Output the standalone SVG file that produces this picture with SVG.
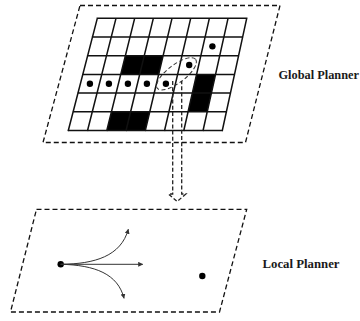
<svg xmlns="http://www.w3.org/2000/svg" width="360" height="321" viewBox="0 0 360 321">
  <style>
    .frame { fill: none; stroke: #111; stroke-width: 1.3; stroke-dasharray: 5 3; }
    .grid { fill: none; stroke: #111; stroke-width: 1.5; stroke-linecap: square; }
    .obst { fill: #000; }
    .dot { fill: #000; }
    .sel { fill: none; stroke: #333; stroke-width: 1; stroke-dasharray: 4 2.5; }
    .pass { fill: none; stroke: #222; stroke-width: 1.3; stroke-dasharray: 4 2.2; }
    .traj { fill: none; stroke: #333; stroke-width: 1; }
    .label { font-family: "Liberation Serif", "Times New Roman", serif; font-weight: bold; font-size: 12px; fill: #1a1a1a; }
  </style>
  <defs>
    <marker id="head" viewBox="0 0 10 10" refX="9" refY="5" markerWidth="5" markerHeight="5" markerUnits="userSpaceOnUse" orient="auto">
      <path d="M0,0 L10,5 L0,10 Z" fill="#333"/>
    </marker>
  </defs>

  <g id="global-planner">
    <path class="frame" d="M80 5.5 H280 L245.5 142.5 H43 Z"/>
    <g id="obstacles">
      <path class="obst" d="M125.37 55.7 L163.1 55.7 L158.65 74.4 L120.72 74.4 Z"/>
      <path class="obst" d="M196.58 74.4 L215.54 74.4 L207.21 111.8 L188.06 111.8 Z"/>
      <path class="obst" d="M111.44 111.8 L149.75 111.8 L145.3 130.5 L106.8 130.5 Z"/>
    </g>
    <path class="grid" d="M97.3 18.3 H246.7 M92.47 37 H242.63 M87.63 55.7 H238.57 M82.8 74.4 H234.5 M77.97 93.1 H230.43 M73.13 111.8 H226.37 M68.3 130.5 H222.3
      M97.3 18.3 L68.3 130.5 M115.98 18.3 L87.55 130.5 M134.65 18.3 L106.8 130.5 M153.33 18.3 L126.05 130.5 M172 18.3 L145.3 130.5 M190.68 18.3 L164.55 130.5 M209.35 18.3 L183.8 130.5 M228.03 18.3 L203.05 130.5 M246.7 18.3 L222.3 130.5"/>
    <g id="path-dots">
      <circle class="dot" cx="89.9" cy="83.75" r="3.2"/>
      <circle class="dot" cx="108.9" cy="83.75" r="3.2"/>
      <circle class="dot" cx="127.9" cy="83.75" r="3.2"/>
      <circle class="dot" cx="146.9" cy="83.75" r="3.2"/>
      <circle class="dot" cx="165.9" cy="83.75" r="3.2"/>
      <circle class="dot" cx="189.2" cy="65.05" r="3.2"/>
      <circle class="dot" cx="212.4" cy="46.35" r="3.2"/>
    </g>
    <ellipse class="sel" cx="176.5" cy="73.8" rx="24" ry="9" transform="rotate(-37 176.5 73.8)"/>
  </g>

  <g id="local-planner">
    <path class="frame" d="M36.5 209.3 H246.7 L219.5 312 H10.5 Z"/>
    <circle class="dot" cx="60.7" cy="264.3" r="3.2"/>
    <circle class="dot" cx="202.3" cy="276" r="3.2"/>
  </g>

  <g id="connectors">
    <path class="pass" d="M172.7 81 V194 H168.5 L177.1 201.5 L185.9 194 H181.7 V81"/>
    <path class="traj" d="M60.7 264.3 H142.7" marker-end="url(#head)"/>
    <path class="traj" d="M60.7 264.3 C95 264 121 256 128.3 229.3" marker-end="url(#head)"/>
    <path class="traj" d="M60.7 264.3 C95 265 118 274 124 298.3" marker-end="url(#head)"/>
  </g>

  <g id="labels">
    <text class="label" x="278.5" y="78.5" textLength="80.5" lengthAdjust="spacingAndGlyphs">Global Planner</text>
    <text class="label" x="262.5" y="268.3" textLength="77" lengthAdjust="spacingAndGlyphs">Local Planner</text>
  </g>
</svg>
